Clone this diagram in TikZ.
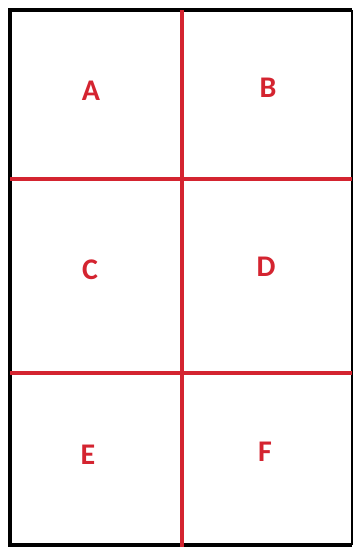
\documentclass[tikz,border=0pt]{standalone}
\usepackage{fontspec}
\newfontfamily\cellfont{Carlito}
\definecolor{gridred}{RGB}{212, 36, 48}
\begin{document}
\begin{tikzpicture}[
    x=1pt, y=-1pt,
    frame/.style={line width=4pt, black},
    sideframe/.style={line width=2.2pt, black},
    divider/.style={line width=3.4pt, gridred},
    cell/.style={font=\cellfont\bfseries\fontsize{30}{32}\selectfont, text=gridred, inner sep=0pt}
]
\useasboundingbox (0,0) rectangle (355,547);

% outer frame
\coordinate (TL) at (10,10);
\coordinate (TR) at (352,10);
\coordinate (BL) at (10,545);
\coordinate (BR) at (352,545);
\draw[frame] (TR) -- (TL) -- (BL) -- (BR);
\draw[sideframe] (TR) -- (BR);

% dividers
\coordinate (Vtop) at (182,10);
\coordinate (Vbot) at (182,547);
\coordinate (H1l) at (10,179);
\coordinate (H1r) at (352,179);
\coordinate (H2l) at (10,373);
\coordinate (H2r) at (352,373);
\draw[divider] (Vtop) -- (Vbot);
\draw[divider] (H1l) -- (H1r);
\draw[divider] (H2l) -- (H2r);

% cell labels
\node[cell] (A) at (91,91) {A};
\node[cell] (B) at (268,88) {B};
\node[cell] (C) at (90,270) {C};
\node[cell] (D) at (266,267) {D};
\node[cell] (E) at (88,455) {E};
\node[cell] (F) at (265,452) {F};
\end{tikzpicture}
\end{document}
